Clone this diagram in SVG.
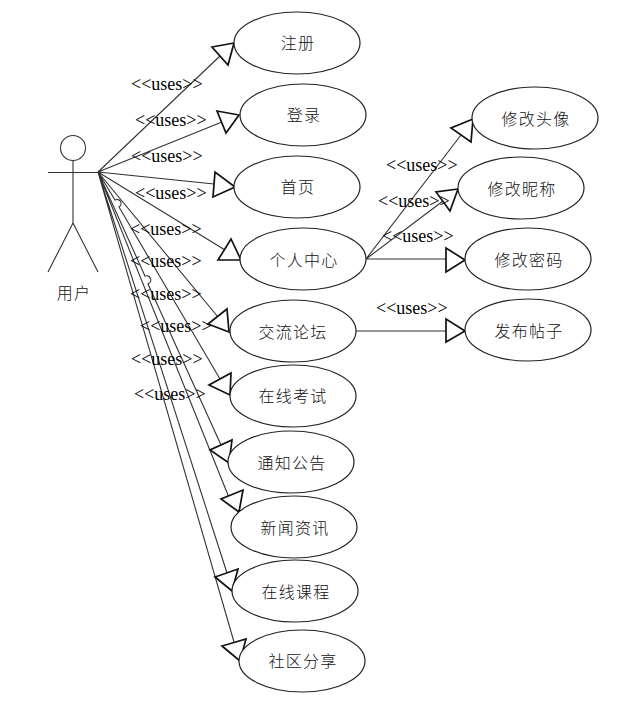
<svg xmlns="http://www.w3.org/2000/svg" width="618" height="706" viewBox="0 0 618 706">
<style>
.n{fill:#fff;stroke:#222;stroke-width:1.2}
.l{fill:none;stroke:#333;stroke-width:1.1}
.h{fill:#fff;stroke:#111;stroke-width:1.7}
.t{font-family:"Noto Sans CJK SC",sans-serif;font-size:16px;text-anchor:middle;fill:#111;letter-spacing:1.3px;font-weight:300}
.u{font-family:"Liberation Serif",serif;font-size:18px;fill:#000}
</style>
<rect width="618" height="706" fill="#fff"/>
<g id="connectors">
<path class="l" d="M98 172L220 56M98 172L222 122M98 172L214 184M98 172L225 250M98 172L218 317M98 172L115 200A4 4 0 0 1 119 207L220 379M98 172L145 276A4.200 4.200 0 0 1 148 284L221 445M98 172L232 505M98 172L227 573M98 172L234 642"/>
<path class="l" d="M366 259L461 135M366 259L443 201M366 259H446M356 331H446"/>
<polygon class="h" points="234,43 212,47 228,65"/>
<polygon class="h" points="239,115 217,111 226,133"/>
<polygon class="h" points="235,187 215,172 213,197"/>
<polygon class="h" points="241,260 231,239 218,260"/>
<polygon class="h" points="229,332 227,309 208,324"/>
<polygon class="h" points="230,395 231,373 209,385"/>
<polygon class="h" points="229,463 232,440 210,450"/>
<polygon class="h" points="239,512 243,490 221,499"/>
<polygon class="h" points="232,591 238,569 215,577"/>
<polygon class="h" points="240,661 246,639 222,646"/>
<polygon class="h" points="473,119 451,128 471,142"/>
<polygon class="h" points="458,189 436,192 450,211"/>
<polygon class="h" points="465,260 446,248 446,272"/>
<polygon class="h" points="465,331 446,319 446,342"/>
</g>
<g id="actor">
<circle class="l" cx="73" cy="148" r="12.5"/>
<path class="l" d="M73 161V223M48 172.500H98M73 223L48 272M73 223L98 272"/>
<text class="t" x="74" y="299">用户</text>
</g>
<g id="n1"><ellipse class="n" cx="297" cy="43" rx="63" ry="31"/><text class="t" x="298" y="49">注册</text></g>
<g id="n2"><ellipse class="n" cx="303" cy="115" rx="63" ry="31"/><text class="t" x="304" y="121">登录</text></g>
<g id="n3"><ellipse class="n" cx="297" cy="187" rx="63" ry="31"/><text class="t" x="298" y="193">首页</text></g>
<g id="n4"><ellipse class="n" cx="303" cy="259" rx="63" ry="31"/><text class="t" x="304" y="266">个人中心</text></g>
<g id="n5"><ellipse class="n" cx="293" cy="331" rx="63" ry="31"/><text class="t" x="293" y="338">交流论坛</text></g>
<g id="n6"><ellipse class="n" cx="293" cy="396" rx="63" ry="31"/><text class="t" x="293" y="402">在线考试</text></g>
<g id="n7"><ellipse class="n" cx="291" cy="462" rx="63" ry="31"/><text class="t" x="292" y="469">通知公告</text></g>
<g id="n8"><ellipse class="n" cx="294" cy="527" rx="63" ry="31"/><text class="t" x="295" y="534">新闻资讯</text></g>
<g id="n9"><ellipse class="n" cx="295" cy="591" rx="63" ry="31"/><text class="t" x="296" y="598">在线课程</text></g>
<g id="n10"><ellipse class="n" cx="302" cy="661" rx="63" ry="31"/><text class="t" x="303" y="667">社区分享</text></g>
<g id="n11"><ellipse class="n" cx="535" cy="118" rx="63" ry="31"/><text class="t" x="536" y="125">修改头像</text></g>
<g id="n12"><ellipse class="n" cx="521" cy="188" rx="63" ry="31"/><text class="t" x="522" y="195">修改昵称</text></g>
<g id="n13"><ellipse class="n" cx="528" cy="259" rx="63" ry="31"/><text class="t" x="529" y="266">修改密码</text></g>
<g id="n14"><ellipse class="n" cx="528" cy="330" rx="63" ry="31"/><text class="t" x="529" y="337">发布帖子</text></g>
<g id="labels">
<text class="u" x="131" y="90">&lt;&lt;uses&gt;&gt;</text>
<text class="u" x="135" y="126">&lt;&lt;uses&gt;&gt;</text>
<text class="u" x="131" y="162">&lt;&lt;uses&gt;&gt;</text>
<text class="u" x="135" y="199">&lt;&lt;uses&gt;&gt;</text>
<text class="u" x="130" y="235">&lt;&lt;uses&gt;&gt;</text>
<text class="u" x="130" y="267">&lt;&lt;uses&gt;&gt;</text>
<text class="u" x="130" y="300">&lt;&lt;uses&gt;&gt;</text>
<text class="u" x="140" y="332">&lt;&lt;uses&gt;&gt;</text>
<text class="u" x="131" y="365">&lt;&lt;uses&gt;&gt;</text>
<text class="u" x="134" y="400">&lt;&lt;uses&gt;&gt;</text>
<text class="u" x="386" y="171">&lt;&lt;uses&gt;&gt;</text>
<text class="u" x="378" y="207">&lt;&lt;uses&gt;&gt;</text>
<text class="u" x="382" y="242">&lt;&lt;uses&gt;&gt;</text>
<text class="u" x="376" y="314">&lt;&lt;uses&gt;&gt;</text>
</g>
</svg>
